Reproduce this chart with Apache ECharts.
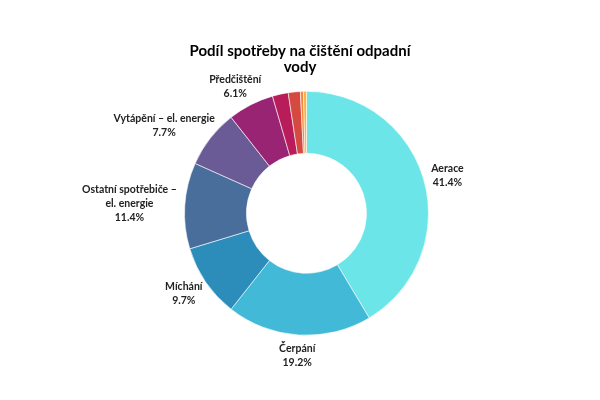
<!DOCTYPE html>
<html>
<head>
<meta charset="utf-8">
<script src="https://cdn.jsdelivr.net/npm/echarts@6/dist/echarts.min.js"></script>
<style>html,body{margin:0;padding:0;background:#fff}#c{width:600px;height:400px}</style>
</head>
<body>
<div id="c"></div>
<script>
const titleText = 'Podíl spotřeby na čištění odpadní\nvody';
const categories = ['Aerace', 'Čerpání', 'Míchání', 'Ostatní spotřebiče –\nel. energie', 'Vytápění – el. energie', 'Předčištění', 'Ostatní 1', 'Ostatní 2', 'Ostatní 3', 'Ostatní 4'];
const values = [41.4, 19.2, 9.7, 11.4, 7.7, 6.1, 2.1, 1.6, 0.4, 0.4];
const showLabel = [true, true, true, true, true, true, false, false, false, false];
const colors = ['#6ce5e8', '#43b9d8', '#2c8cba', '#4a6e9b', '#6a5a96', '#9a2474', '#b91c5a', '#d44a40', '#f5873a', '#fbb03f'];

const chart = echarts.init(document.getElementById('c'), null, {renderer: 'canvas'});
const GAP = 8;
const data = categories.map((name, i) => ({
  name: name,
  value: values[i],
  itemStyle: {color: colors[i]},
  label: {show: showLabel[i]}
}));

chart.setOption({
  animation: false,
  backgroundColor: '#ffffff',
  title: {
    text: titleText,
    left: 'center',
    top: 38,
    textStyle: {fontFamily: 'Lato', fontWeight: 'bold', fontSize: 15, color: '#000', lineHeight: 16}
  },
  series: [{
    type: 'pie',
    center: [306.5, 213.3],
    radius: [60, 122],
    startAngle: 90,
    clockwise: true,
    avoidLabelOverlap: false,
    itemStyle: {borderColor: '#ffffff', borderWidth: 0.6},
    label: {
      position: 'outside',
      formatter: function (p) {
        return p.name.split('\n').map(s => '{c|' + s + '}').join('\n') + '\n{c|' + p.value.toFixed(1) + '%}';
      },
      rich: {
        c: {align: 'center', fontFamily: 'Lato', fontWeight: 'bold', fontSize: 10.5, color: '#222', lineHeight: 14}
      }
    },
    labelLine: {show: false, length: 5, length2: 0},
    labelLayout: function (params) {
      const layout = chart.getModel().getSeriesByIndex(0).getData().getItemLayout(params.dataIndex);
      if (!layout) return {};
      const mid = (layout.startAngle + layout.endAngle) / 2;
      const ux = Math.cos(mid), uy = Math.sin(mid);
      const w = params.labelRect.width, h = params.labelRect.height;
      const R = layout.r + GAP;
      return {
        x: layout.cx + ux * R + ux * w / 2,
        y: layout.cy + uy * R + uy * h / 2,
        align: 'center',
        verticalAlign: 'middle'
      };
    },
    data: data
  }]
});
</script>
</body>
</html>
